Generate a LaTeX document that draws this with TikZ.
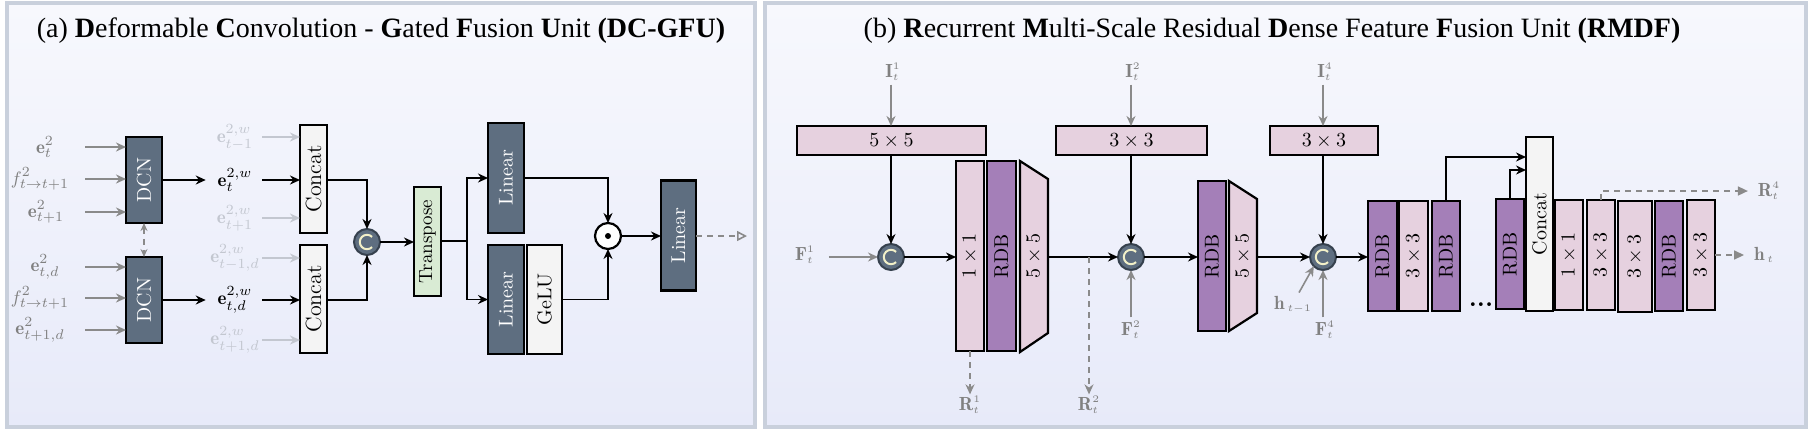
\documentclass[tikz,border=0pt]{standalone}
\usepackage{fontspec}
\newfontfamily\titlefont{Liberation Serif}
\usetikzlibrary{arrows.meta}
\definecolor{slatec}{HTML}{5E6E80}
\definecolor{slatebd}{HTML}{36414E}
\definecolor{palec}{HTML}{F4F4F4}
\definecolor{pinkc}{HTML}{E6D1DF}
\definecolor{rdbc}{HTML}{A47FB8}
\definecolor{trc}{HTML}{D9EBD4}
\definecolor{labc}{HTML}{808080}
\definecolor{garrc}{HTML}{8A8A8A}
\definecolor{fadec}{HTML}{C3C7D0}
\definecolor{bordc}{HTML}{C9D0DC}
\definecolor{bgtop}{HTML}{F7F8FD}
\definecolor{bgbot}{HTML}{E7EAF9}
\definecolor{carcc}{HTML}{F2F0C8}
\tikzset{
  every node/.style={inner sep=0pt, outer sep=0pt, font=\fontsize{10}{12}\selectfont},
  blk/.style={draw=black, line width=1.1pt},
  slate/.style={blk, fill=slatec, text=white},
  pale/.style={blk, fill=palec},
  pinkbox/.style={blk, fill=pinkc},
  rdbbox/.style={blk, fill=rdbc},
  trbox/.style={blk, fill=trc},
  lab/.style={text=labc, font=\fontsize{9.5}{11}\selectfont},
  blab/.style={text=black, font=\fontsize{9.5}{11}\selectfont},
  flab/.style={text=fadec, font=\fontsize{9.5}{11}\selectfont},
  arr/.style={-{Stealth[length=5pt,width=4.5pt]}, line width=0.9pt},
  garr/.style={-{Stealth[length=5pt,width=4.5pt]}, line width=0.8pt, draw=garrc},
  farr/.style={-{Stealth[length=5pt,width=4.5pt]}, line width=0.8pt, draw=fadec},
  gdash/.style={-{Stealth[length=5pt,width=4.5pt]}, line width=0.8pt, draw=garrc, dash pattern=on 3pt off 2.5pt},
  gdashtri/.style={-{Triangle[open,length=5pt,width=5pt]}, line width=0.8pt, draw=garrc, dash pattern=on 3pt off 2.5pt},
  gdashfill/.style={-{Triangle[length=5pt,width=4.5pt]}, line width=0.8pt, draw=garrc, dash pattern=on 3pt off 2.5pt},
  cnode/.style={circle, fill=slatec, draw=slatebd, line width=1pt, minimum size=13pt},
  carc/.style={draw=carcc, line width=1pt},
  panel/.style={top color=bgtop, bottom color=bgbot, draw=bordc, line width=2pt},
  ttl/.style={font=\titlefont\fontsize{14}{17}\selectfont}
}
\newcommand\cmark[1]{\draw[carc] ([shift={(45:3.6pt)}]#1.center) arc[start angle=45,end angle=315,radius=3.6pt];}
\begin{document}
\begin{tikzpicture}[x=0.5pt,y=-0.5pt]
\useasboundingbox (0,0) rectangle (1813,430);
\fill[white] (0,0) rectangle (1813,430);
\path[panel] (7,3) rectangle (755,427);
\path[panel] (765,3) rectangle (1806,427);

% ---------- titles
\node[ttl] (ta) at (381,31) {(a) \textbf{D}eformable \textbf{C}onvolution - \textbf{G}ated \textbf{F}usion \textbf{U}nit \textbf{(DC-GFU)}};
\node[ttl] (tb) at (1272,31) {(b) \textbf{R}ecurrent \textbf{M}ulti-Scale Residual \textbf{D}ense Feature \textbf{F}usion Unit \textbf{(RMDF)}};

% ---------- panel (a)
\coordinate (ax) at (85,0);
\coordinate (bx) at (262,0);
\node[lab] (i1) at (45,147) {$\mathbf{e}^{2}_{t}$};
\node[lab] (i2) at (40,179) {$f^{2}_{t\rightarrow t+1}$};
\node[lab] (i3) at (46,212) {$\mathbf{e}^{2}_{t+1}$};
\node[lab] (i4) at (45,267) {$\mathbf{e}^{2}_{t,d}$};
\node[lab] (i5) at (40,298) {$f^{2}_{t\rightarrow t+1}$};
\node[lab] (i6) at (40,330) {$\mathbf{e}^{2}_{t+1,d}$};

\node[slate, minimum width=18pt, minimum height=43pt] (dcn1) at (144,180) {\rotatebox{90}{DCN}};
\node[slate, minimum width=18pt, minimum height=43pt] (dcn2) at (144,300) {\rotatebox{90}{DCN}};
\foreach \n/\d in {i1/dcn1,i2/dcn1,i3/dcn1,i4/dcn2,i5/dcn2,i6/dcn2}
  \draw[garr] (\n -| ax) -- (\d.west |- \n);
\draw[gdash, {Stealth[length=4pt,width=3.5pt]}-{Stealth[length=4pt,width=3.5pt]}, line width=0.7pt] (dcn1.south) -- (dcn2.north);

\node[blab] (w1) at (235,180) {$\mathbf{e}^{2,w}_{t}$};
\node[blab] (w2) at (235,300) {$\mathbf{e}^{2,w}_{t,d}$};
\node[flab] (f1) at (235,137) {$\mathbf{e}^{2,w}_{t-1}$};
\node[flab] (f2) at (235,218) {$\mathbf{e}^{2,w}_{t+1}$};
\node[flab] (f3) at (235,258) {$\mathbf{e}^{2,w}_{t-1,d}$};
\node[flab] (f4) at (235,340) {$\mathbf{e}^{2,w}_{t+1,d}$};

\node[pale, minimum width=13.5pt, minimum height=54pt, font=\fontsize{11}{13}\selectfont] (cc1) at (313.5,179) {\rotatebox{90}{Concat}};
\node[pale, minimum width=13.5pt, minimum height=54pt, font=\fontsize{11}{13}\selectfont] (cc2) at (313.5,299) {\rotatebox{90}{Concat}};

\draw[arr] (dcn1.east |- w1) -- ([xshift=-6pt]w1.west);
\draw[arr] (dcn2.east |- w2) -- ([xshift=-6pt]w2.west);
\draw[arr] (w1 -| bx) -- (cc1.west |- w1);
\draw[arr] (w2 -| bx) -- (cc2.west |- w2);
\foreach \n/\d in {f1/cc1,f2/cc1,f3/cc2,f4/cc2}
  \draw[farr] (\n -| bx) -- (\d.west |- \n);

\node[cnode] (ca) at (367,242) {};
\cmark{ca}
\draw[arr] (cc1.east |- w1) -| (ca.north);
\draw[arr] (cc2.east |- w2) -| (ca.south);

\node[trbox, minimum width=13.5pt, minimum height=54.5pt, font=\fontsize{9.5}{11}\selectfont] (tp) at (427.5,241.5) {\rotatebox{90}{Transpose}};
\draw[arr] (ca.east) -- (tp.west |- ca);
\coordinate (sp) at (467,241);

\node[slate, minimum width=18pt, minimum height=55pt] (ln1) at (506,178) {\rotatebox{90}{Linear}};
\node[slate, minimum width=18pt, minimum height=54.5pt] (ln2) at (506,299.5) {\rotatebox{90}{Linear}};
\node[pale, minimum width=17.5pt, minimum height=54.5pt] (gl) at (544.5,299.5) {\rotatebox{90}{GeLU}};
\draw[line width=0.9pt] (tp.east |- sp) -- (sp);
\draw[arr] (sp) |- (ln1.west);
\draw[arr] (sp) |- (ln2.west);

\node[circle, draw=black, fill=white, line width=1.1pt, minimum size=13pt] (od) at (608,236) {};
\fill (od.center) circle (1.5pt);
\draw[arr] (ln1.east) -| (od.north);
\draw[arr] (gl.east) -| (od.south);

\node[slate, minimum width=17.5pt, minimum height=55pt] (ln3) at (678.5,235.5) {\rotatebox{90}{Linear}};
\draw[arr] (od.east) -- (ln3.west |- od);
\coordinate (oa) at (747,236);
\draw[gdashtri] (ln3.east |- oa) -- (oa);

% ---------- panel (b)
\node[lab] (I1) at (893,72) {$\mathbf{I}^{\scriptscriptstyle 1}_{\scriptscriptstyle t}$};
\node[lab] (I2) at (1133,72) {$\mathbf{I}^{\scriptscriptstyle 2}_{\scriptscriptstyle t}$};
\node[lab] (I4) at (1325,72) {$\mathbf{I}^{\scriptscriptstyle 4}_{\scriptscriptstyle t}$};

\node[pinkbox, minimum width=94.5pt, minimum height=14.5pt] (k1) at (891.5,140.5) {$5\times5$};
\node[pinkbox, minimum width=75.5pt, minimum height=14.5pt] (k2) at (1131.5,140.5) {$3\times3$};
\node[pinkbox, minimum width=54pt, minimum height=14.5pt] (k3) at (1324,140.5) {$3\times3$};

\node[cnode] (c1) at (891,257) {};
\node[cnode] (c2) at (1131,257) {};
\node[cnode] (c3) at (1323,257) {};
\cmark{c1}\cmark{c2}\cmark{c3}

\draw[garr] ([yshift=-2pt]I1.south -| c1) -- (k1.north -| c1);
\draw[garr] ([yshift=-2pt]I2.south -| c2) -- (k2.north -| c2);
\draw[garr] ([yshift=-2pt]I4.south -| c3) -- (k3.north -| c3);
\draw[arr] (k1.south -| c1) -- (c1.north);
\draw[arr] (k2.south -| c2) -- (c2.north);
\draw[arr] (k3.south -| c3) -- (c3.north);

\node[lab] (F1) at (805,255) {$\mathbf{F}^{\scriptscriptstyle 1}_{\scriptscriptstyle t}$};
\draw[garr] ([xshift=7pt]F1.east |- c1) -- (c1.west);

\node[pinkbox, minimum width=14pt, minimum height=95pt] (o1) at (970,256) {\rotatebox{90}{$1\times1$}};
\node[rdbbox, minimum width=14.5pt, minimum height=95pt] (r1) at (1001.5,256) {\rotatebox{90}{RDB}};
\draw[pinkbox] (1020,161) -- (1048,179) -- (1048,333) -- (1020,352) -- cycle;
\node (t1) at (1034,256) {\rotatebox{90}{$5\times5$}};
\coordinate (t1e) at (1048,257);
\draw[arr] (c1.east) -- (o1.west |- c1);
\draw[arr] (t1e) -- (c2.west);

\node[lab] (R1) at (970,405) {$\mathbf{R}^{\scriptscriptstyle 1}_{\scriptscriptstyle t}$};
\node[lab] (R2) at (1089,405) {$\mathbf{R}^{\scriptscriptstyle 2}_{\scriptscriptstyle t}$};
\coordinate (r2s) at (1089,257);
\draw[gdash] (o1.south) -- ([yshift=1pt]R1.north);
\draw[gdash] (r2s) -- ([yshift=1pt]R2.north);

\node[lab] (F2) at (1131,330) {$\mathbf{F}^{\scriptscriptstyle 2}_{\scriptscriptstyle t}$};
\draw[garr] ([yshift=2pt]F2.north) -- (c2.south);

\node[rdbbox, minimum width=14pt, minimum height=75pt] (r2) at (1212,256) {\rotatebox{90}{RDB}};
\draw[pinkbox] (1229,181) -- (1257,199) -- (1257,313) -- (1229,331) -- cycle;
\node (t2) at (1243,256) {\rotatebox{90}{$5\times5$}};
\coordinate (t2e) at (1257,257);
\draw[arr] (c2.east) -- (r2.west |- c2);
\draw[arr] (t2e) -- (c3.west);

\node[lab] (hm) at (1293,305) {$\mathbf{h}_{\,\scriptscriptstyle t-1}$};
\node[lab] (F4) at (1325,330) {$\mathbf{F}^{\scriptscriptstyle 4}_{\scriptscriptstyle t}$};
\draw[garr] ([xshift=3pt,yshift=2pt]hm.north) -- (c3.south west);
\draw[garr] ([yshift=2pt]F4.north -| c3) -- (c3.south);

\node[rdbbox, minimum width=14.5pt, minimum height=55pt] (ra) at (1382.5,256) {\rotatebox{90}{RDB}};
\node[pinkbox, minimum width=14.5pt, minimum height=55pt] (ka) at (1413.5,256) {\rotatebox{90}{$3\times3$}};
\node[rdbbox, minimum width=14pt, minimum height=55pt] (rb) at (1446,256) {\rotatebox{90}{RDB}};
\node[font=\fontsize{13}{15}\selectfont\bfseries] (dots) at (1481,305) {...};
\node[rdbbox, minimum width=14pt, minimum height=55pt] (rc) at (1510,254) {\rotatebox{90}{RDB}};
\node[pale, minimum width=13.5pt, minimum height=87pt] (cat) at (1539.5,224) {\rotatebox{90}{Concat}};
\node[pinkbox, minimum width=14pt, minimum height=55pt] (kb) at (1569,255) {\rotatebox{90}{$1\times1$}};
\node[pinkbox, minimum width=14pt, minimum height=55pt] (kc) at (1601,255) {\rotatebox{90}{$3\times3$}};
\node[pinkbox, minimum width=17pt, minimum height=55.5pt] (kd) at (1635,256.5) {\rotatebox{90}{$3\times3$}};
\node[rdbbox, minimum width=14pt, minimum height=55pt] (rd) at (1669,256) {\rotatebox{90}{RDB}};
\node[pinkbox, minimum width=14pt, minimum height=55pt] (ke) at (1701,255) {\rotatebox{90}{$3\times3$}};

\draw[arr] (c3.east) -- (ra.west |- c3);
\draw[arr] (rb.north) |- ([yshift=-10pt]cat.north west);
\draw[arr] (rc.north) |- ([yshift=-16.5pt]cat.north west);

\node[lab] (R4) at (1769,191) {$\mathbf{R}^{\scriptscriptstyle 4}_{\scriptscriptstyle t}$};
\node[lab] (ht) at (1764,255) {$\mathbf{h}_{\,\scriptscriptstyle t}$};
\draw[gdashfill] (kc.north) |- ([xshift=-5pt]R4.west);
\draw[gdashfill] (ke.east) -- ([xshift=-5pt]ht.west |- ke);
\end{tikzpicture}
\end{document}
